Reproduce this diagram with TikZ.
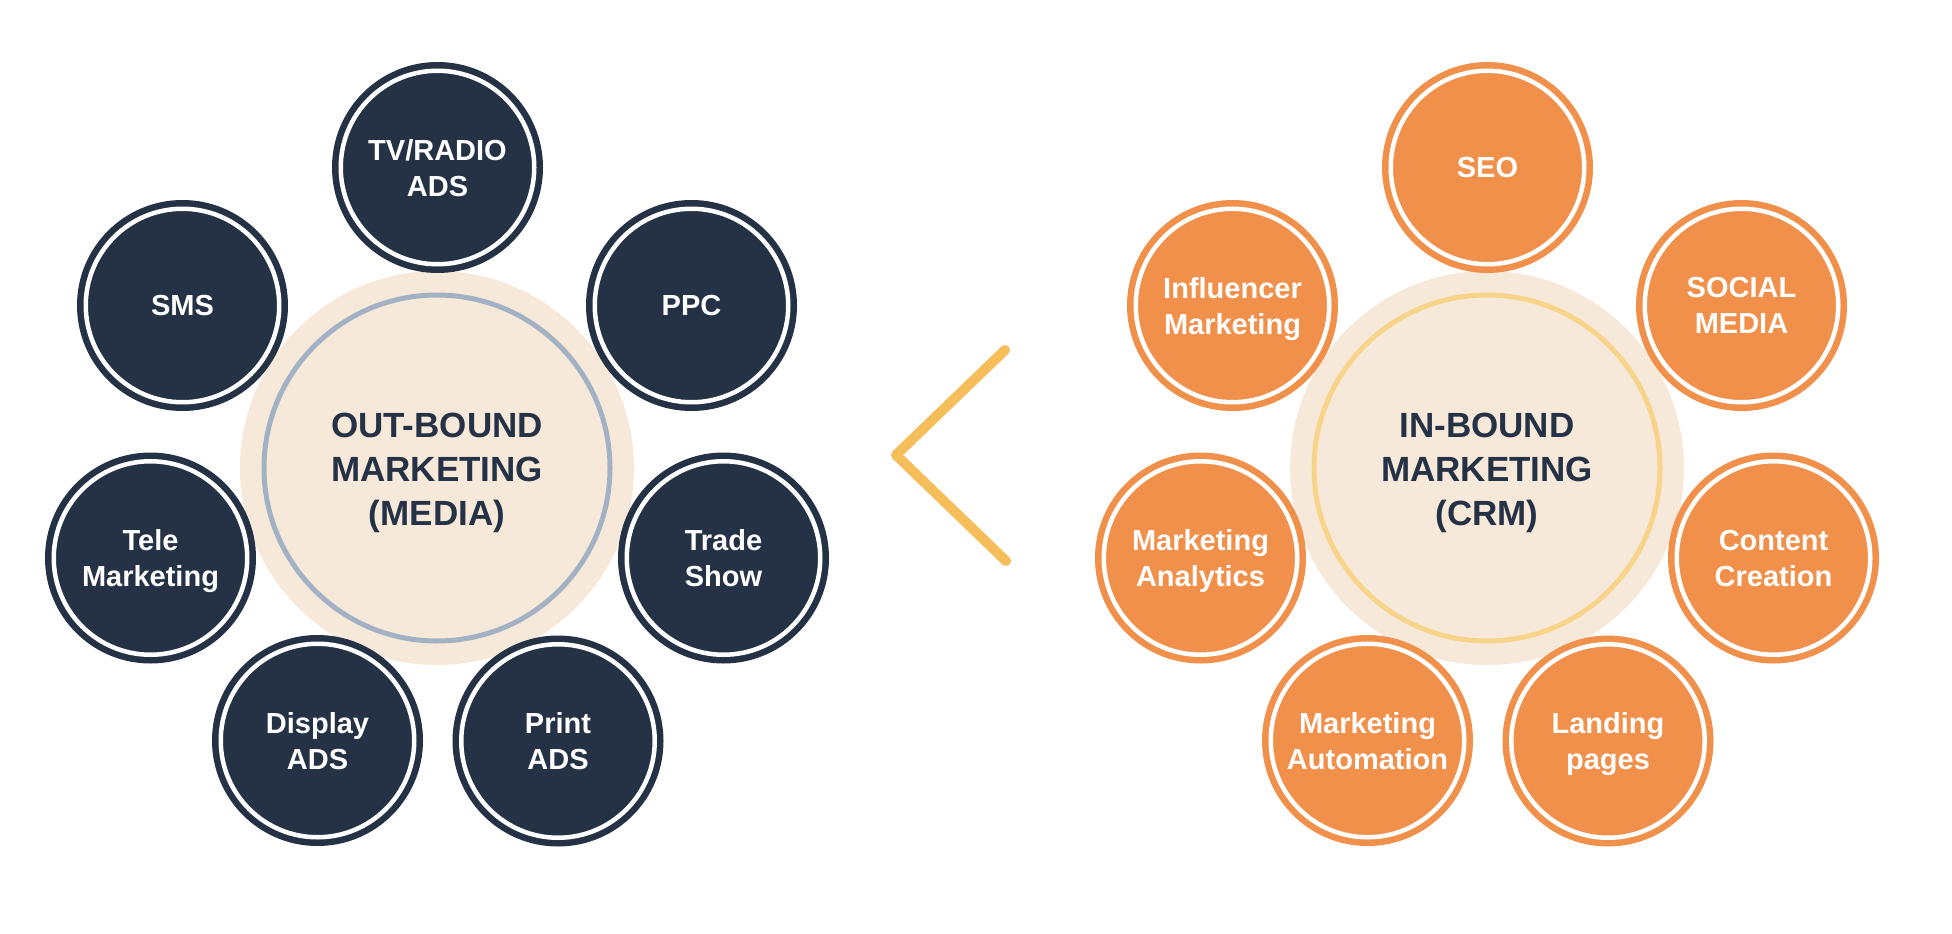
\documentclass[tikz,border=0pt]{standalone}
\usepackage{fontspec}
\setmainfont{Liberation Sans}
\usetikzlibrary{decorations.pathmorphing}
\definecolor{navy}{HTML}{253246}
\definecolor{orng}{HTML}{F0904A}
\definecolor{beige}{HTML}{F7E9DA}
\definecolor{grayring}{HTML}{A3B1C4}
\definecolor{yelring}{HTML}{F7D48A}
\definecolor{chevcol}{HTML}{F6BD5B}
\begin{document}
\begin{tikzpicture}[x=1pt,y=-1pt,
  sat/.style={circle, fill=#1, draw=#1, line width=6.5pt, double=white,
    double distance=4.5pt, minimum size=193.5pt, inner sep=0pt, text=white,
    font=\bfseries\fontsize{29}{36}\selectfont, align=center, text depth=0pt},
  hub/.style={circle, fill=beige, minimum size=394pt, inner sep=0pt},
  hubring/.style={draw=#1, line width=5pt},
  hubtext/.style={text=navy, font=\bfseries\fontsize{35}{44}\selectfont, align=center, text depth=0pt},
  chev/.style={draw=chevcol, line width=10pt, line cap=round, line join=round}]
\useasboundingbox (0,0) rectangle (1952,934);
\fill[white] (0,0) rectangle (1952,934);

% left hub
\node[hub] (lhub) at (437,468) {};
\draw[hubring=grayring] (lhub.center) circle[radius=173];
\node[hubtext] (ltext) at (437,469) {OUT-BOUND\\MARKETING\\(MEDIA)};

% right hub
\node[hub] (rhub) at (1487,468) {};
\draw[hubring=yelring] (rhub.center) circle[radius=173];
\node[hubtext] (rtext) at (1487,469) {IN-BOUND\\MARKETING\\(CRM)};

% left satellites
\node[sat=navy] (tv) at (437.5,167.5) {TV/RADIO\\ADS};
\node[sat=navy] (ppc) at (691.5,305.5) {PPC};
\node[sat=navy] (trade) at (723.5,558) {Trade\\Show};
\node[sat=navy] (print) at (558,741) {Print\\ADS};
\node[sat=navy] (display) at (317.5,740.5) {Display\\ADS};
\node[sat=navy] (tele) at (150.5,558) {Tele\\Marketing};
\node[sat=navy] (sms) at (182.5,305.5) {SMS};

% right satellites
\node[sat=orng] (seo) at (1487.5,167.5) {SEO};
\node[sat=orng] (social) at (1741.5,305.5) {SOCIAL\\MEDIA};
\node[sat=orng] (content) at (1773.5,558) {Content\\Creation};
\node[sat=orng] (landing) at (1608,741) {Landing\\pages};
\node[sat=orng] (automation) at (1367.5,740.5) {Marketing\\Automation};
\node[sat=orng] (analytics) at (1200.5,558) {Marketing\\Analytics};
\node[sat=orng] (influencer) at (1232.5,305.5) {Influencer\\Marketing};

% chevron
\coordinate (ctop) at (1005,350);
\coordinate (cmid) at (896,455);
\coordinate (cbot) at (1006,561);
\draw[chev] (ctop) -- (cmid) -- (cbot);
\draw[chev, line width=3pt, opacity=0.6,
  decorate, decoration={random steps, segment length=3pt, amplitude=2pt}]
  (ctop) -- (cmid) -- (cbot);
\end{tikzpicture}
\end{document}
